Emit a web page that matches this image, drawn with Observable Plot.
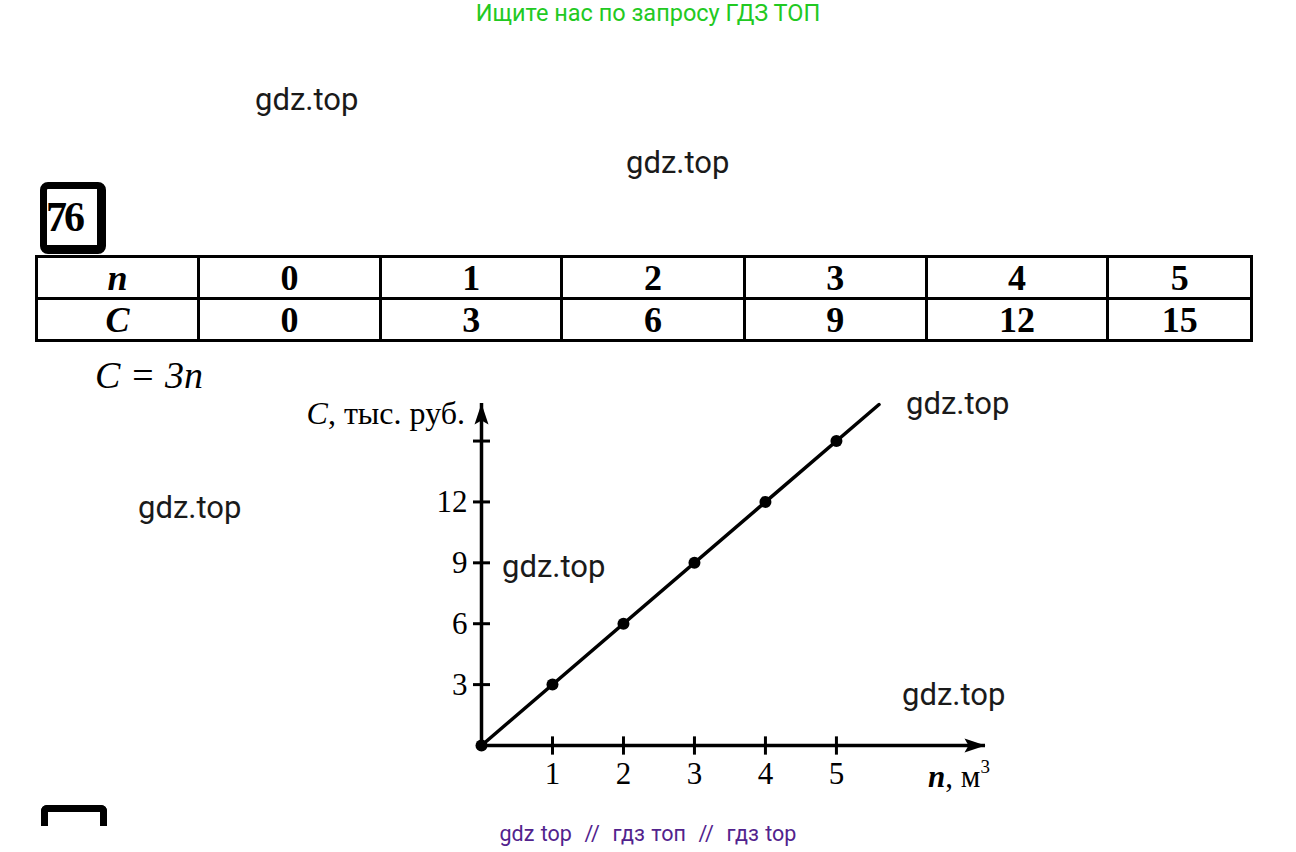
<!DOCTYPE html>
<html>
<head>
<meta charset="utf-8">
<script src="https://cdn.jsdelivr.net/npm/d3@7"></script>
<script src="https://cdn.jsdelivr.net/npm/@observablehq/plot@0.6"></script>
<style>
  html, body { margin:0; padding:0; background:#fff; }
  #page { position:relative; width:1296px; height:852px; overflow:hidden; background:#fff; font-family:"Liberation Serif", serif; color:#000; }
  .abs { position:absolute; white-space:nowrap; line-height:1; }
  .wm { font-family: Roboto, "Noto Sans", sans-serif; font-size:31px; color:#1a1a1a; }
  #hdr { font-family: Roboto, sans-serif; font-size:23.5px; color:#22c922; left:0; width:1296px; text-align:center; top:2px; }
  #ftr { font-family: Roboto, sans-serif; font-size:21.5px; color:#52238d; left:0; width:1296px; text-align:center; top:823px; word-spacing:1px; }
  #box76 { left:40px; top:182px; width:50px; height:56px; border:7px solid #000; border-right-width:9px; border-bottom-width:9px; border-radius:8px; background:#fff; }
  #box76 span { position:absolute; left:-1px; top:7px; font-weight:bold; font-size:42px; letter-spacing:-3px; }
  #box77 { left:41px; top:805px; width:52px; height:14px; border:7px solid #000; border-bottom:none; border-radius:6px 6px 0 0; }
  table#tbl { position:absolute; left:35px; top:255px; width:1218px; border-collapse:collapse; }
  #tbl td { border:3.5px solid #000; height:39px; padding:0; text-align:center; vertical-align:middle; font-weight:bold; font-size:36px; line-height:1; }
  #tbl td.h { font-style:italic; }
  #formula { left:95px; top:356px; font-size:38px; font-style:italic; }
  #ylab { right:831px; top:397px; font-size:32px; }
  #xlab { left:928px; top:757px; font-size:31px; }
  #chart { position:absolute; left:380px; top:380px; }
</style>
</head>
<body>
<div id="page">
  <div id="hdr" class="abs">Ищите нас по запросу ГДЗ ТОП</div>
  <div class="abs wm" style="left:255px;top:84px">gdz.top</div>
  <div class="abs wm" style="left:626px;top:147px">gdz.top</div>
  <div class="abs wm" style="left:906px;top:388px">gdz.top</div>
  <div class="abs wm" style="left:138px;top:492px">gdz.top</div>
  <div class="abs wm" style="left:502px;top:551px">gdz.top</div>
  <div class="abs wm" style="left:902px;top:679px">gdz.top</div>
  <div id="box76" class="abs"><span>76</span></div>
  <table id="tbl"><tbody></tbody></table>
  <div id="formula" class="abs">C = 3n</div>
  <div id="chart"></div>
  <div id="ylab" class="abs"><i>C</i>, тыс. руб.</div>
  <div id="xlab" class="abs"><i><b>n</b></i>, м<sup style="font-size:19px;vertical-align:14px">3</sup></div>
  <div id="box77" class="abs"></div>
  <div id="ftr" class="abs">gdz top &nbsp;//&nbsp; гдз топ &nbsp;//&nbsp; гдз top</div>
</div>
<script>
// ---- data ----
const rowLabels = ["n", "C"];
const nValues = [0, 1, 2, 3, 4, 5];
const cValues = [0, 3, 6, 9, 12, 15];
const xTickValues = [1, 2, 3, 4, 5];
const yTickMarks = [3, 6, 9, 12, 15];
const yTickLabels = [3, 6, 9, 12];
const lineN = [0, 5.6];
const lineC = [0, 16.8];
const xMax = 7.1;
const yMax = 16.85;

// ---- table ----
const colWidths = [162, 183, 182, 183, 183, 182, 143];
const tbody = document.querySelector("#tbl tbody");
[nValues, cValues].forEach((vals, r) => {
  const tr = document.createElement("tr");
  const th = document.createElement("td");
  th.className = "h"; th.textContent = rowLabels[r]; th.style.width = colWidths[0] + "px";
  tr.appendChild(th);
  vals.forEach((v, i) => {
    const td = document.createElement("td");
    td.textContent = v; td.style.width = colWidths[i + 1] + "px";
    tr.appendChild(td);
  });
  tbody.appendChild(tr);
});

// ---- chart ----
const points = nValues.map((n, i) => ({n, c: cValues[i]}));
const lineData = lineN.map((n, i) => ({n, c: lineC[i]}));
const arrowSym = {
  draw(ctx) {
    ctx.moveTo(0, -12); ctx.lineTo(7, 9); ctx.lineTo(0, 5); ctx.lineTo(-7, 9); ctx.closePath();
  }
};
const serif = "Liberation Serif";
const chart = Plot.plot({
  width: 640, height: 430,
  marginLeft: 101, marginRight: 35, marginTop: 23, marginBottom: 65,
  x: {domain: [0, xMax]},
  y: {domain: [0, yMax]},
  style: {background: "transparent", color: "#000", overflow: "visible"},
  marks: [
    Plot.ruleY([0], {x1: 0, x2: xMax, stroke: "#000", strokeWidth: 3.5}),
    Plot.ruleX([0], {y1: 0, y2: yMax, stroke: "#000", strokeWidth: 3.5}),
    Plot.link(xTickValues, {x1: d => d, x2: d => d, y1: () => -0.45, y2: () => 0.45, stroke: "#000", strokeWidth: 3}),
    Plot.link(yTickMarks, {y1: d => d, y2: d => d, x1: () => -0.12, x2: () => 0.12, stroke: "#000", strokeWidth: 3}),
    Plot.dot([xMax], {x: d => d, y: () => 0, dx: -12, symbol: arrowSym, rotate: 90, fill: "#000", stroke: "none"}),
    Plot.dot([yMax], {x: () => 0, y: d => d, dy: 12, symbol: arrowSym, fill: "#000", stroke: "none"}),
    Plot.axisX(xTickValues, {tickSize: 0, tickPadding: 16, fontSize: 31, fontFamily: serif, label: null}),
    Plot.axisY(yTickLabels, {tickSize: 0, tickPadding: 14, fontSize: 31, fontFamily: serif, label: null}),
    Plot.line(lineData, {x: "n", y: "c", stroke: "#000", strokeWidth: 3.5}),
    Plot.dot(points, {x: "n", y: "c", r: 6, fill: "#000", stroke: "none"})
  ]
});
document.getElementById("chart").appendChild(chart);
</script>
</body>
</html>
